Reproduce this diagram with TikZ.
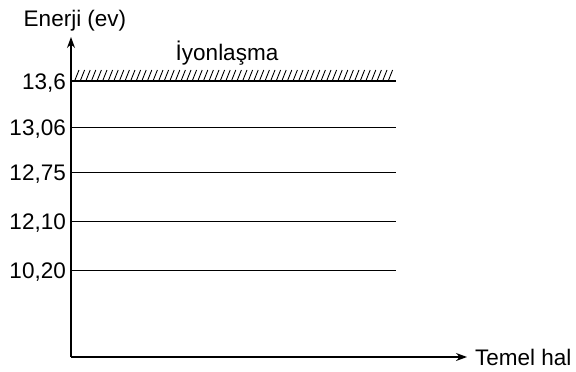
\documentclass[tikz,border=0pt]{standalone}
\usepackage{fontspec}
\setmainfont{Liberation Sans}
\usetikzlibrary{arrows.meta}
\begin{document}
\begin{tikzpicture}[x=1pt,y=-1pt,
  lbl/.style={font=\fontsize{22.5}{27}\selectfont, inner sep=0pt},
  level/.style={line width=1pt},
  axis/.style={line width=1.1pt,-{Stealth[length=11pt,width=8pt]}}]
\useasboundingbox (0,0) rectangle (576,372);
\coordinate (O) at (71,357);
\coordinate (ytop) at (71,37);
\coordinate (xend) at (467,357);
\draw[axis] (O) -- (ytop);
\draw[axis] (O) -- (xend);
\node[lbl, anchor=base west] (xl) at (475,365) {Temel hal};
\node[lbl, anchor=base] (yl) at (75,26) {Enerji (ev)};
\node[lbl, anchor=base] (ion) at (227,60) {İyonlaşma};
% levels
\foreach \v/\y/\n in {13{,}6/81/a,13{,}06/127/b,12{,}75/172/c,12{,}10/221/d,10{,}20/270/e}{
  \node[lbl, anchor=base east] (L\n) at (66,\y+8) {\v};
  \coordinate (S\n) at (71,\y);
  \coordinate (E\n) at (396,\y);
}
\draw[line width=2pt] (Sa) -- (Ea);
\foreach \n in {b,c,d,e}{\draw[level] (S\n) -- (E\n);}
% hatching
\foreach \i in {0,...,56}{
  \draw[line width=0.9pt] (75+5.6*\i,80) -- (79+5.6*\i,70);
}
\end{tikzpicture}
\end{document}
